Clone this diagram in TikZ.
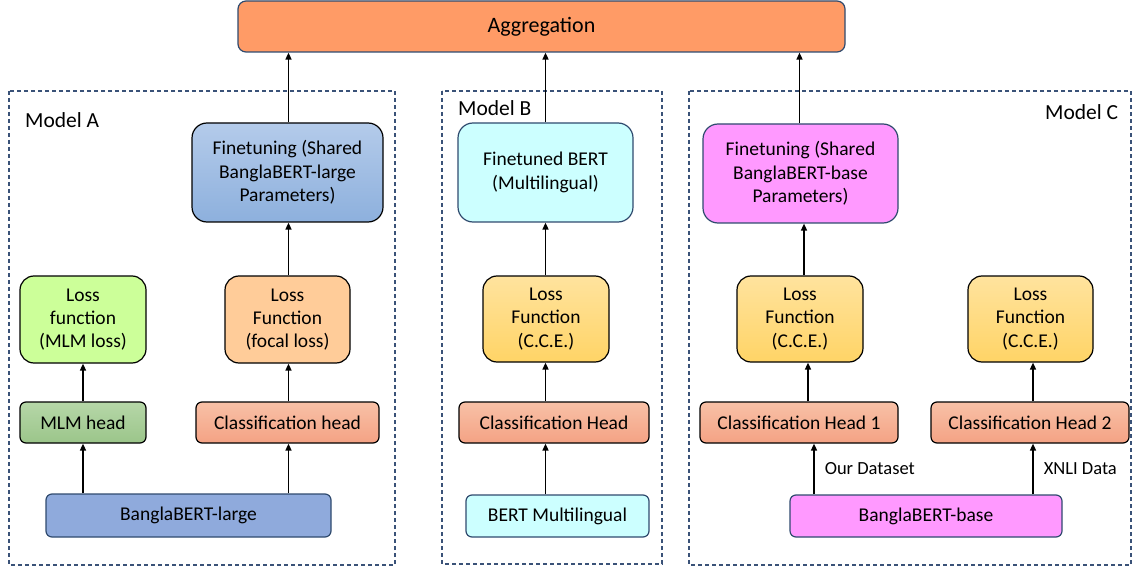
\documentclass[tikz,border=0pt]{standalone}
\usepackage{fontspec}
\setmainfont{Carlito}
\usetikzlibrary{arrows.meta,calc}
\definecolor{aggfill}{HTML}{FF9B66}
\definecolor{navy}{HTML}{2F4A6E}
\definecolor{dashc}{HTML}{3A5278}
\definecolor{blueT}{HTML}{B4CBEA}
\definecolor{blueB}{HTML}{8DB0DD}
\definecolor{lgreen}{HTML}{CCFF99}
\definecolor{lorange}{HTML}{FFCC99}
\definecolor{greenT}{HTML}{B6D7A8}
\definecolor{greenB}{HTML}{9BC58A}
\definecolor{clsT}{HTML}{F8C1A7}
\definecolor{clsB}{HTML}{F4A284}
\definecolor{bertblue}{HTML}{8FAADC}
\definecolor{cyanl}{HTML}{CCFFFF}
\definecolor{ccT}{HTML}{FFE39E}
\definecolor{ccB}{HTML}{FFD466}
\definecolor{pinkl}{HTML}{FF99FF}
\tikzset{
  box/.style={draw=black, line width=1.2pt, align=center, inner sep=0pt,
    font=\fontsize{19.5}{23.3}\selectfont},
  bigbox/.style={box, rounded corners=15pt},
  lossbox/.style={box, rounded corners=14pt},
  headbox/.style={box, rounded corners=6pt},
  basebox/.style={box, draw=navy, rounded corners=6pt},
  modelframe/.style={draw=dashc, line width=1.1pt, dash pattern=on 4pt off 3pt},
  modellabel/.style={anchor=west, inner sep=0pt, font=\fontsize{21.5}{24}\selectfont},
  edgelabel/.style={anchor=west, inner sep=0pt, font=\fontsize{18.5}{22}\selectfont},
  arr/.style={line width=1.5pt, -{Triangle[length=7pt,width=6pt]}},
}
\begin{document}
\begin{tikzpicture}[x=1pt,y=-1pt]
\useasboundingbox (0,0) rectangle (1134,569);
% frames
\draw[modelframe] (9,91) rectangle (395,565);
\draw[modelframe] (442,91) rectangle (662,564);
\draw[modelframe] (689,91) rectangle (1131,565);
\node[modellabel] (labA) at (25,120) {Model A};
\node[modellabel] (labB) at (458,108) {Model B};
\node[modellabel] (labC) at (1045,112) {Model C};
% aggregation
\node[basebox, fill=aggfill, rounded corners=8pt, minimum width=607pt, minimum height=51pt, text depth=3pt, font=\fontsize{22}{26}\selectfont] (agg) at (541.5,26.5) {Aggregation};
% Model A
\node[bigbox, top color=blueT, bottom color=blueB, minimum width=191pt, minimum height=99pt] (finA) at (287.5,172.5) {Finetuning (Shared\\BanglaBERT-large\\Parameters)};
\node[lossbox, fill=lgreen, minimum width=126pt, minimum height=87pt] (lossM) at (83,319.5) {Loss\\function\\(MLM loss)};
\node[lossbox, fill=lorange, minimum width=125pt, minimum height=87pt] (lossF) at (287.5,319.5) {Loss\\Function\\(focal loss)};
\node[headbox, top color=greenT, bottom color=greenB, minimum width=126pt, minimum height=41pt] (mlmH) at (83,422.5) {MLM head};
\node[headbox, top color=clsT, bottom color=clsB, minimum width=183pt, minimum height=41pt] (clsA) at (287.5,422.5) {Classification head};
\node[basebox, fill=bertblue, minimum width=285pt, minimum height=43pt] (bbL) at (188.5,515.5) {BanglaBERT-large};
% Model B
\node[bigbox, draw=navy, fill=cyanl, minimum width=175pt, minimum height=99pt] (finB) at (545.5,172.5) {Finetuned BERT\\(Multilingual)};
\node[lossbox, top color=ccT, bottom color=ccB, minimum width=126pt, minimum height=86pt] (lossB) at (546,319) {Loss\\Function\\(C.C.E.)};
\node[headbox, top color=clsT, bottom color=clsB, minimum width=190pt, minimum height=41pt] (clsBh) at (554,422.5) {Classification Head};
\node[basebox, fill=cyanl, minimum width=183pt, minimum height=42pt] (bertM) at (557.5,516) {BERT Multilingual};
% Model C
\node[bigbox, draw=navy, fill=pinkl, minimum width=195pt, minimum height=99pt] (finC) at (800.5,173.5) {Finetuning (Shared\\BanglaBERT-base\\Parameters)};
\node[lossbox, top color=ccT, bottom color=ccB, minimum width=126pt, minimum height=86pt] (lossC1) at (800,319) {Loss\\Function\\(C.C.E.)};
\node[lossbox, top color=ccT, bottom color=ccB, minimum width=125pt, minimum height=86pt] (lossC2) at (1030.5,319) {Loss\\Function\\(C.C.E.)};
\node[headbox, top color=clsT, bottom color=clsB, minimum width=198pt, minimum height=41pt] (ch1) at (799,422.5) {Classification Head 1};
\node[headbox, top color=clsT, bottom color=clsB, minimum width=198pt, minimum height=41pt] (ch2) at (1030,422.5) {Classification Head 2};
\node[basebox, fill=pinkl, minimum width=272pt, minimum height=42pt] (bbB) at (926,516) {BanglaBERT-base};
% x positions of connectors
\coordinate (xA1) at (83,0);
\coordinate (xA2) at (288.5,0);
\coordinate (xB) at (545.5,0);
\coordinate (xC0) at (799.5,0);
\coordinate (xC1) at (804,0);
\coordinate (xC2) at (808,0);
\coordinate (xC3) at (814,0);
\coordinate (xD) at (1033,0);
% arrows A
\draw[arr] (bbL.north -| xA1) -- (mlmH.south -| xA1);
\draw[arr] (mlmH.north -| xA1) -- (lossM.south -| xA1);
\draw[arr] (bbL.north -| xA2) -- (clsA.south -| xA2);
\draw[arr] (clsA.north -| xA2) -- (lossF.south -| xA2);
\draw[arr] (lossF.north -| xA2) -- (finA.south -| xA2);
\draw[arr] (finA.north -| xA2) -- (agg.south -| xA2);
% arrows B
\draw[arr] (bertM.north -| xB) -- (clsBh.south -| xB);
\draw[arr] (clsBh.north -| xB) -- (lossB.south -| xB);
\draw[arr] (lossB.north -| xB) -- (finB.south -| xB);
\draw[arr] (finB.north -| xB) -- (agg.south -| xB);
% arrows C
\draw[arr] (bbB.north -| xC3) -- (ch1.south -| xC3) node[edgelabel, pos=0.5, xshift=10pt] (lab1) {Our Dataset};
\draw[arr] (ch1.north -| xC2) -- (lossC1.south -| xC2);
\draw[arr] (lossC1.north -| xC1) -- (finC.south -| xC1);
\draw[arr] (finC.north -| xC0) -- (agg.south -| xC0);
\draw[arr] (bbB.north -| xD) -- (ch2.south -| xD) node[edgelabel, pos=0.5, xshift=10pt] (lab2) {XNLI Data};
\draw[arr] (ch2.north -| xD) -- (lossC2.south -| xD);
\end{tikzpicture}
\end{document}
